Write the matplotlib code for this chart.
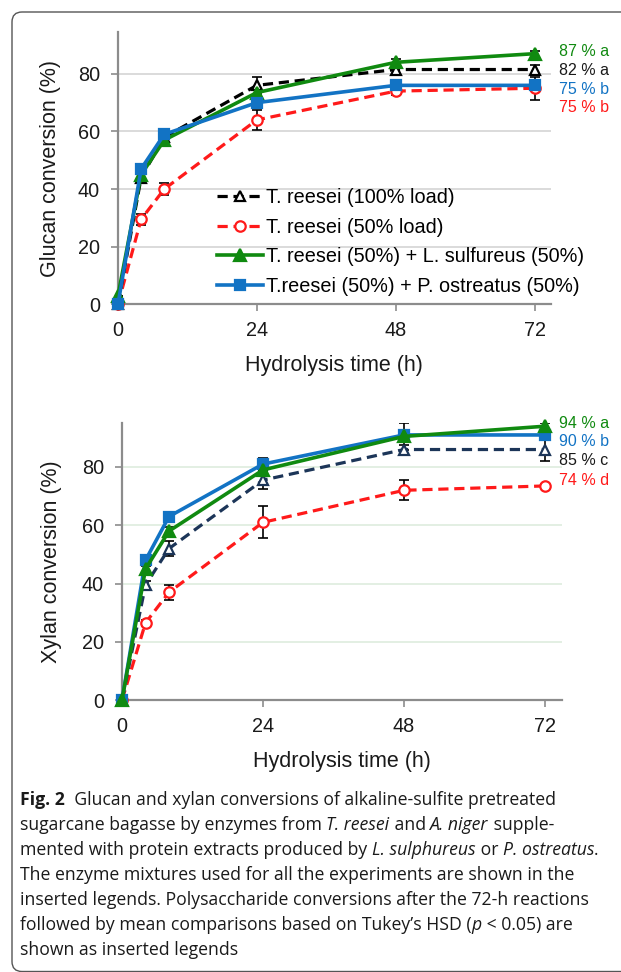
import matplotlib
matplotlib.use("Agg")
import matplotlib.pyplot as plt
from matplotlib.patches import FancyBboxPatch

# sampling times (h)
hours = [0, 4, 8, 24, 48, 72]
time_ticks = [0, 24, 48, 72]
conv_ticks = [0, 20, 40, 60, 80]

legend_labels = [
    "T. reesei (100% load)",
    "T. reesei (50% load)",
    "T. reesei (50%) + L. sulfureus (50%)",
    "T.reesei (50%) + P. ostreatus (50%)",
]

# glucan conversion (%)
glc_full = [0, 44, 58, 76, 81.5, 81.5]
glc_full_err = [0, 2, 1.5, 3, 1.5, 1.5]
glc_half = [0, 29.5, 40, 64, 74, 75]
glc_half_err = [0, 2, 2, 3.5, 1.5, 4]
glc_lsulf = [3, 45, 57, 73.5, 84, 87]
glc_lsulf_err = [0, 1, 1, 1, 1, 1]
glc_postr = [0, 47, 59, 70, 76, 76]
glc_postr_err = [0, 1, 1, 1, 1, 1]

# xylan conversion (%)
xyl_full = [0, 39.5, 52, 75.5, 86, 86]
xyl_full_err = [0, 1.5, 2.5, 3, 1.5, 4]
xyl_half = [0, 26.5, 37, 61, 72, 73.5]
xyl_half_err = [0, 1, 2.5, 5.5, 3.5, 0.5]
xyl_lsulf = [0, 45, 58, 79, 90.5, 94]
xyl_lsulf_err = [0, 1, 1.5, 2, 4.5, 1]
xyl_postr = [0, 48, 63, 81, 91, 91]
xyl_postr_err = [0, 1, 1, 2, 1, 1]

# Tukey letters at 72 h
glc_tags = ["87 % a", "82 % a", "75 % b", "75 % b"]
xyl_tags = ["94 % a", "90 % b", "85 % c", "74 % d"]

caption = [
    [("Fig. 2", "bold"), ("  Glucan and xylan conversions of alkaline-sulfite pretreated", "normal")],
    [("sugarcane bagasse by enzymes from ", "normal"), ("T. reesei", "italic"),
     (" and ", "normal"), ("A. niger", "italic"), (" supple-", "normal")],
    [("mented with protein extracts produced by ", "normal"), ("L. sulphureus", "italic"),
     (" or ", "normal"), ("P. ostreatus", "italic"), (".", "normal")],
    [("The enzyme mixtures used for all the experiments are shown in the", "normal")],
    [("inserted legends. Polysaccharide conversions after the 72-h reactions", "normal")],
    [("followed by mean comparisons based on Tukey\u2019s HSD (", "normal"), ("p", "italic"),
     (" < 0.05) are", "normal")],
    [("shown as inserted legends", "normal")],
]

RED = "#ff1a1a"
GREEN = "#108a10"
BLUE = "#1273c4"
NAVY = "#1c3558"
AXIS = "#8c8c8c"
INK = "#1a1a1a"

plt.rcParams["font.family"] = ["Liberation Sans", "DejaVu Sans"]

fig = plt.figure(figsize=(6.21, 9.72), dpi=100)

# rounded frame around the figure panel
frame = FancyBboxPatch((0.12, 0.005), 6.5, 9.595, boxstyle="round,pad=0,rounding_size=0.1",
                       transform=fig.dpi_scale_trans, facecolor="none",
                       edgecolor="#555555", linewidth=1.0)
fig.patches.append(frame)


def style_axes(ax, grid_color, xmax, ymax):
    ax.set_xlim(0, xmax)
    ax.set_ylim(0, ymax)
    ax.set_xticks(time_ticks)
    ax.set_yticks(conv_ticks)
    for s in ["top", "right"]:
        ax.spines[s].set_visible(False)
    for s in ["left", "bottom"]:
        ax.spines[s].set_color(AXIS)
        ax.spines[s].set_linewidth(1.6)
    ax.tick_params(axis="both", colors=AXIS, labelcolor=INK, labelsize=14.3,
                   length=5, width=1.2)
    ax.tick_params(axis="y", pad=8)
    ax.tick_params(axis="x", pad=7)
    ax.yaxis.grid(True, color=grid_color, linewidth=1.4)
    ax.set_axisbelow(True)
    ax.set_xlabel("Hydrolysis time (h)", fontsize=15.5, color=INK, labelpad=11)


def draw_series(ax, y, err, color, marker, face, dashed, ms):
    ls = (0, (3.2, 1.8)) if dashed else "-"
    lw = 2.3 if dashed else 2.6
    ax.errorbar(hours, y, yerr=err, fmt="none", ecolor="black", elinewidth=1.2,
                capsize=3.5, capthick=1.2, zorder=2)
    line, = ax.plot(hours, y, color=color, linestyle=ls, linewidth=lw, marker=marker,
                    markersize=ms, markerfacecolor=face, markeredgecolor=color,
                    markeredgewidth=1.6, clip_on=False, zorder=3)
    return line


# --- glucan panel ---
ax1 = fig.add_axes([0.19, 0.687, 0.697, 0.280])
style_axes(ax1, "#dadada", 74.8, 94.5)
l_half = draw_series(ax1, glc_half, glc_half_err, RED, "o", "white", True, 7.5)
l_full = draw_series(ax1, glc_full, glc_full_err, "black", "^", "white", True, 7.5)
l_ls = draw_series(ax1, glc_lsulf, glc_lsulf_err, GREEN, "^", GREEN, False, 8.5)
l_po = draw_series(ax1, glc_postr, glc_postr_err, BLUE, "s", BLUE, False, 7.5)
ax1.set_ylabel("Glucan conversion (%)", fontsize=15.5, color=INK, labelpad=12)
ax1.legend([l_full, l_half, l_ls, l_po], legend_labels, loc="lower left",
           bbox_to_anchor=(0.229, 0.03), frameon=False, fontsize=14.3,
           handlelength=2.3, handletextpad=0.15, labelspacing=0.54,
           borderpad=0, borderaxespad=0)
for tag, ypos, col in zip(glc_tags, [87.6, 81.2, 74.7, 68.3], [GREEN, INK, BLUE, RED]):
    ax1.text(76.2, ypos, tag, color=col, fontsize=11.5, va="center", ha="left", clip_on=False)

# --- xylan panel ---
ax2 = fig.add_axes([0.1965, 0.2798, 0.7085, 0.285])
style_axes(ax2, "#e3efe3", 74.9, 95.1)
draw_series(ax2, xyl_half, xyl_half_err, RED, "o", "white", True, 7.5)
draw_series(ax2, xyl_full, xyl_full_err, NAVY, "^", "white", True, 7.5)
draw_series(ax2, xyl_postr, xyl_postr_err, BLUE, "s", BLUE, False, 7.5)
draw_series(ax2, xyl_lsulf, xyl_lsulf_err, GREEN, "^", GREEN, False, 8.5)
ax2.set_ylabel("Xylan conversion (%)", fontsize=15.5, color=INK, labelpad=14)
for tag, ypos, col in zip(xyl_tags, [95.1, 88.6, 82.1, 75.5], [GREEN, BLUE, INK, RED]):
    ax2.text(74.4, ypos, tag, color=col, fontsize=11.5, va="center", ha="left", clip_on=False)

# --- caption, built from styled runs chained left to right ---
cap_font = ["Open Sans", "DejaVu Sans"]
y0 = 1 - 800 / 972
step = 25 / 972
for i, runs in enumerate(caption):
    prev = None
    for text, style in runs:
        kw = dict(fontsize=12.7, family=cap_font, color=INK,
                  fontweight="bold" if style == "bold" else "normal",
                  fontstyle="italic" if style == "italic" else "normal")
        if prev is None:
            prev = fig.text(20 / 621, y0 - i * step, text, va="center", ha="left", **kw)
        else:
            prev = ax2.annotate(text, xy=(1, 0), xycoords=prev, va="bottom", ha="left",
                                annotation_clip=False, **kw)

fig.savefig("out.png", dpi=100)
